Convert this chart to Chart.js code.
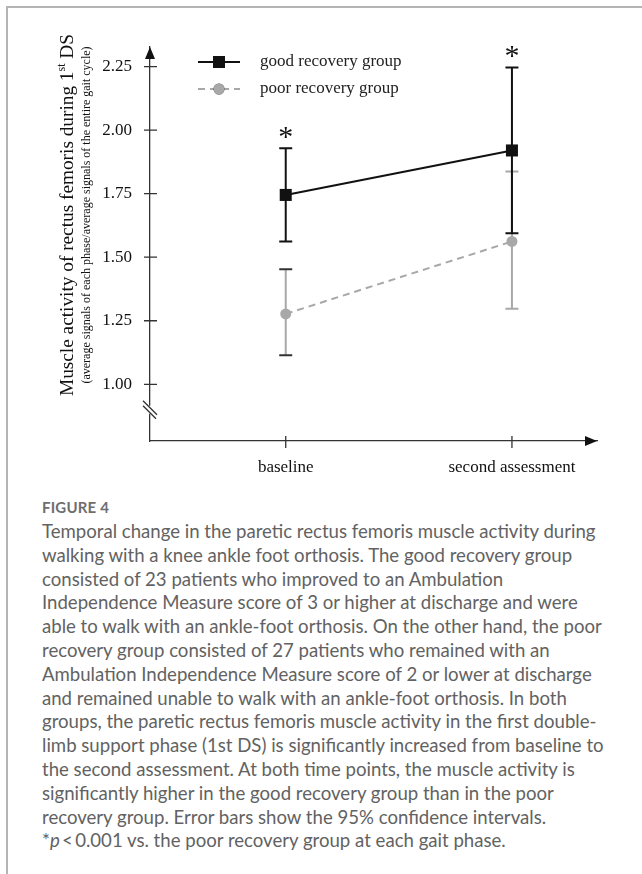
<!DOCTYPE html>
<html lang="en">
<head>
    <meta charset="UTF-8">
    <title>Figure 4</title>
    <script src="https://cdn.jsdelivr.net/npm/chart.js"></script>
    <style>
        body { margin: 0; background: #fff; }
        .frame {
            position: absolute; left: 6px; top: 6px; width: 636px; height: 868px;
            border-top: 2px solid #b4b4b4; border-left: 2px solid #b4b4b4;
        }
        #chart { position: absolute; left: 0; top: 0; }
        .caption {
            position: absolute; left: 42px; top: 498px; width: 566px;
            font-family: Lato, "Open Sans", sans-serif; color: #626262;
        }
        .caption h4 { margin: 0 0 4px 0; font-size: 15px; font-weight: 700; color: #6e6e6e; letter-spacing: 0.2px; }
        .caption p { margin: 0; font-size: 18.6px; line-height: 23.8px; }
    </style>
</head>
<body>
    <div class="frame"></div>
    <canvas id="chart" width="642" height="490"></canvas>

    <div class="caption">
        <h4>FIGURE 4</h4>
        <p>Temporal change in the paretic rectus femoris muscle activity during walking with a knee ankle foot orthosis. The good recovery group consisted of 23 patients who improved to an Ambulation Independence Measure score of 3 or higher at discharge and were able to walk with an ankle-foot orthosis. On the other hand, the poor recovery group consisted of 27 patients who remained with an Ambulation Independence Measure score of 2 or lower at discharge and remained unable to walk with an ankle-foot orthosis. In both groups, the paretic rectus femoris muscle activity in the first double-limb support phase (1st DS) is significantly increased from baseline to the second assessment. At both time points, the muscle activity is significantly higher in the good recovery group than in the poor recovery group. Error bars show the 95% confidence intervals.<br>*<i>p</i>&thinsp;&lt;&thinsp;0.001 vs. the poor recovery group at each gait phase.</p>
    </div>

    <script>
        // data
        const categories = ['baseline', 'second assessment'];
        const seriesNames = ['good recovery group', 'poor recovery group'];
        const goodMean = [1.745, 1.92];
        const goodLow = [1.562, 1.594];
        const goodHigh = [1.929, 2.246];
        const poorMean = [1.277, 1.562];
        const poorLow = [1.114, 1.297];
        const poorHigh = [1.453, 1.837];
        const yTicks = [1.00, 1.25, 1.50, 1.75, 2.00, 2.25];
        const significant = [true, true];

        const serif = '"Liberation Serif", "Times New Roman", serif';
        const black = '#111';
        const grey = '#a8a8a8';

        // error bars, asterisks, axis arrows, tick marks, legend and y title
        const extras = {
            id: 'extras',
            beforeDatasetsDraw(chart) {
                const ctx = chart.ctx;
                const x = chart.scales.x, y = chart.scales.y;
                const bars = [
                    { low: poorLow, high: poorHigh, color: grey, caps: ['#333', grey] },
                    { low: goodLow, high: goodHigh, color: black, caps: [black, black] }
                ];
                ctx.save();
                ctx.lineWidth = 2;
                bars.forEach(b => {
                    categories.forEach((c, i) => {
                        const px = x.getPixelForValue(i);
                        const y1 = y.getPixelForValue(b.low[i]);
                        const y2 = y.getPixelForValue(b.high[i]);
                        ctx.strokeStyle = b.color;
                        ctx.beginPath();
                        ctx.moveTo(px, y1); ctx.lineTo(px, y2);
                        ctx.stroke();
                        ctx.strokeStyle = b.caps[i];
                        ctx.beginPath();
                        ctx.moveTo(px - 6.5, y1); ctx.lineTo(px + 6.5, y1);
                        ctx.moveTo(px - 6.5, y2); ctx.lineTo(px + 6.5, y2);
                        ctx.stroke();
                    });
                });
                ctx.restore();
            },
            afterDraw(chart) {
                const ctx = chart.ctx;
                const x = chart.scales.x, y = chart.scales.y;
                const area = chart.chartArea;
                ctx.save();
                ctx.strokeStyle = '#333';
                ctx.fillStyle = '#111';
                ctx.lineWidth = 1.3;

                // arrow heads
                ctx.beginPath();
                ctx.moveTo(area.left, area.top);
                ctx.lineTo(area.left - 5, area.top + 12);
                ctx.lineTo(area.left + 5, area.top + 12);
                ctx.closePath(); ctx.fill();
                ctx.beginPath();
                ctx.moveTo(area.right, area.bottom);
                ctx.lineTo(area.right - 12, area.bottom - 5);
                ctx.lineTo(area.right - 12, area.bottom + 5);
                ctx.closePath(); ctx.fill();

                // tick marks crossing the axes
                ctx.beginPath();
                yTicks.forEach(v => {
                    const py = y.getPixelForValue(v);
                    ctx.moveTo(area.left - 6, py); ctx.lineTo(area.left + 7, py);
                });
                categories.forEach((c, i) => {
                    const px = x.getPixelForValue(i);
                    ctx.moveTo(px, area.bottom - 5); ctx.lineTo(px, area.bottom + 7);
                });
                ctx.stroke();

                // axis break
                const by = y.getPixelForValue(0.9);
                ctx.fillStyle = '#fff';
                ctx.fillRect(area.left - 2, by - 4, 4, 8);
                ctx.beginPath();
                ctx.moveTo(area.left - 7, by - 9); ctx.lineTo(area.left + 7, by + 5);
                ctx.moveTo(area.left - 7, by - 4); ctx.lineTo(area.left + 6, by + 9);
                ctx.stroke();

                // significance asterisks
                ctx.fillStyle = '#111';
                ctx.font = '30px ' + serif;
                ctx.textAlign = 'center';
                ctx.textBaseline = 'middle';
                significant.forEach((s, i) => {
                    if (!s) return;
                    ctx.fillText('*', x.getPixelForValue(i), y.getPixelForValue(goodHigh[i]) - 10);
                });

                // legend
                const lx = 198, rows = [62, 89];
                chart.data.datasets.forEach((ds, k) => {
                    ctx.strokeStyle = ds.borderColor;
                    ctx.lineWidth = 2;
                    ctx.setLineDash(ds.borderDash || []);
                    ctx.beginPath();
                    ctx.moveTo(lx, rows[k]); ctx.lineTo(lx + 42, rows[k]);
                    ctx.stroke();
                    ctx.setLineDash([]);
                    Chart.helpers.drawPoint(ctx, {
                        pointStyle: ds.pointStyle, radius: ds.pointRadius, borderWidth: 0
                    }, lx + 21, rows[k]);
                    ctx.fillStyle = ds.pointBackgroundColor;
                    ctx.fill();
                    ctx.fillStyle = '#222';
                    ctx.font = '17px ' + serif;
                    ctx.textAlign = 'left';
                    ctx.fillText(seriesNames[k], 260, rows[k]);
                });

                // y axis title, rotated
                ctx.translate(68, 215);
                ctx.rotate(-Math.PI / 2);
                ctx.fillStyle = '#111';
                ctx.textBaseline = 'middle';
                const bigFont = '19.3px ' + serif, supFont = '12px ' + serif;
                const parts = [
                    ['Muscle activity of rectus femoris during 1', bigFont, 0],
                    ['st', supFont, -6],
                    [' DS', bigFont, 0]
                ];
                let total = 0;
                parts.forEach(p => { ctx.font = p[1]; total += ctx.measureText(p[0]).width; });
                let cx = -total / 2;
                ctx.textAlign = 'left';
                parts.forEach(p => {
                    ctx.font = p[1];
                    ctx.fillText(p[0], cx, p[2]);
                    cx += ctx.measureText(p[0]).width;
                });
                ctx.font = '12px ' + serif;
                ctx.textAlign = 'center';
                ctx.fillText('(average signals of each phase/average signals of the entire gait cycle)', 0, 19);
                ctx.restore();
            }
        };

        new Chart(document.getElementById('chart'), {
            type: 'line',
            data: {
                datasets: [
                    {
                        label: seriesNames[0],
                        data: goodMean.map((v, i) => ({ x: i, y: v })),
                        borderColor: black,
                        borderWidth: 2,
                        pointStyle: 'rect',
                        pointRadius: 8.5,
                        pointBackgroundColor: black,
                        pointBorderWidth: 0
                    },
                    {
                        label: seriesNames[1],
                        data: poorMean.map((v, i) => ({ x: i, y: v })),
                        borderColor: grey,
                        borderWidth: 2,
                        borderDash: [7, 5],
                        pointStyle: 'circle',
                        pointRadius: 5.5,
                        pointBackgroundColor: grey,
                        pointBorderWidth: 0
                    }
                ]
            },
            options: {
                responsive: false,
                animation: false,
                layout: { padding: { left: 0, top: 47, right: 45, bottom: 0 } },
                plugins: { legend: { display: false }, tooltip: { enabled: false } },
                scales: {
                    x: {
                        type: 'linear',
                        min: -0.6,
                        max: 1.376,
                        afterBuildTicks: s => { s.ticks = categories.map((c, i) => ({ value: i })); },
                        afterFit: s => { s.height = 49; },
                        grid: { display: false, drawTicks: false },
                        border: { display: true, color: '#333', width: 1.3 },
                        ticks: {
                            padding: 16,
                            color: '#111',
                            font: { family: serif, size: 17 },
                            callback: v => categories[v]
                        }
                    },
                    y: {
                        min: 0.777,
                        max: 2.327,
                        afterBuildTicks: s => { s.ticks = yTicks.map(v => ({ value: v })); },
                        afterFit: s => { s.width = 150; },
                        grid: { display: false, drawTicks: false },
                        border: { display: true, color: '#333', width: 1.3 },
                        ticks: {
                            padding: 18,
                            color: '#111',
                            font: { family: serif, size: 17 },
                            callback: v => v.toFixed(2)
                        }
                    }
                }
            },
            plugins: [extras]
        });
    </script>
</body>
</html>
